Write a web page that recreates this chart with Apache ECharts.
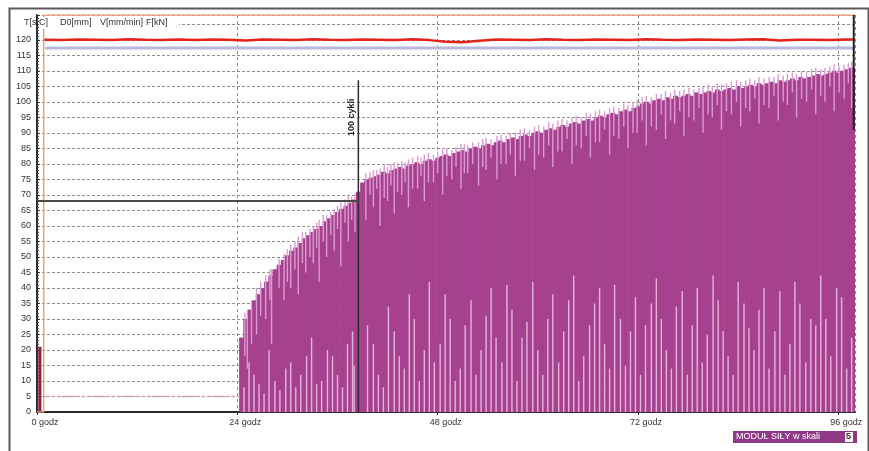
<!DOCTYPE html>
<html>
<head>
<meta charset="utf-8">
<script src="https://cdn.jsdelivr.net/npm/echarts@6/dist/echarts.min.js"></script>
<style>
html, body { margin: 0; padding: 0; background: #fff; }
#main { width: 869px; height: 451px; }
</style>
</head>
<body>
<div id="main"></div>
<script>
// F[kN] - gorna obwiednia, co 0.5 godz od 24.5 godz
var forceStart = 24.5;
var forceStep = 0.5;
var forceTop = [
  24, 30, 33, 36, 38, 40, 42, 44, 46, 47.5,
  49, 50.5, 52, 53, 54.5, 56, 57, 58, 59, 60,
  61.5, 62.5, 63.5, 64.5, 65.5, 66.5, 67.5, 68.5, 71, 74,
  75, 75.5, 76, 76.5, 77.5, 77, 78, 78.5, 79, 78.5,
  79.5, 80, 80.5, 80, 81, 81.5, 81, 82, 82.5, 83,
  82.5, 83.5, 84, 84.5, 84, 85, 85.5, 85, 86, 86.5,
  86, 87, 87.5, 87, 88, 88.5, 88, 89, 89.5, 89,
  90, 90.5, 90, 91, 91.5, 91, 92, 92.5, 92, 93,
  93.5, 93, 94, 94.5, 94, 95, 95.5, 95, 96, 96.5,
  96, 97, 97.5, 97, 98, 98.5, 99.5, 100, 99.5, 100.5,
  101, 100.5, 101.5, 101, 102, 101.5, 102, 102.5, 102, 103,
  102.5, 103, 103.5, 103, 104, 103.5, 104, 104.5, 104, 105,
  104.5, 105, 105.5, 105, 106, 105.5, 106, 106.5, 106, 107,
  106.5, 107, 107.5, 107, 108, 107.5, 108, 108.5, 109, 108.5,
  109, 109.5, 110, 109.5, 110, 110.5, 111, 111
];
// jasne prazki od gory: [godz, od wartosci]
var upperStreaks = [
  [24.9, 18], [25.2, 14], [25.7, 22], [26.3, 25], [26.8, 31], [27.4, 30], [27.9, 36],
  [28.1, 22], [29.0, 40], [29.6, 36], [30.0, 42], [30.4, 40], [30.9, 46], [31.3, 38],
  [31.8, 48], [32.2, 45], [32.7, 50], [33.1, 48], [33.5, 53], [33.8, 42], [34.3, 55],
  [34.7, 50], [35.2, 57], [35.6, 52], [36.0, 59], [36.4, 47], [36.9, 61], [37.3, 55],
  [37.7, 62], [38.1, 58],
  [39.4, 62], [39.9, 70], [40.3, 66], [40.7, 72], [41.1, 60], [41.6, 69], [42.0, 68],
  [42.4, 73], [42.8, 64], [43.2, 71], [43.7, 70], [44.1, 74], [44.5, 66], [45.0, 72],
  [45.6, 72], [46.0, 76], [46.4, 68], [46.9, 74], [47.5, 74], [48.0, 77], [48.6, 70],
  [49.1, 76], [49.7, 75], [50.2, 79], [50.8, 72], [51.2, 77], [51.6, 77], [52.2, 80],
  [52.9, 73], [53.4, 79], [53.8, 78], [54.4, 82], [55.1, 75], [55.6, 80], [56.2, 80],
  [56.7, 83], [57.3, 76], [57.9, 81], [58.4, 81], [59.0, 85], [59.6, 78], [60.1, 83],
  [60.7, 82], [61.3, 86], [61.8, 79], [62.4, 84], [62.9, 84], [63.5, 88], [64.1, 80],
  [64.6, 86], [65.2, 85], [65.8, 89], [66.3, 82], [66.9, 87], [67.4, 87], [68.0, 91],
  [68.6, 83], [69.1, 89], [69.7, 88], [70.3, 92], [70.8, 85], [71.4, 90], [71.9, 90],
  [72.5, 94], [73.0, 86], [73.6, 92], [74.2, 91], [74.8, 96], [75.3, 88], [75.9, 94],
  [76.4, 93], [77.0, 97], [77.5, 89], [78.1, 95], [78.7, 94], [79.3, 98], [79.8, 90],
  [80.4, 96], [80.9, 95], [81.5, 99], [82.0, 91], [82.6, 97], [83.2, 96], [83.8, 100],
  [84.3, 92], [84.9, 98], [85.4, 97], [86.0, 101], [86.5, 93], [87.1, 99], [87.7, 98],
  [88.3, 102], [88.8, 94], [89.4, 100], [89.9, 99], [90.5, 103], [91.0, 95], [91.6, 101],
  [92.2, 100], [92.8, 104], [93.3, 96], [93.9, 102], [94.4, 100], [95.0, 105], [95.5, 97],
  [96.1, 103], [96.7, 101], [97.2, 106], [97.6, 98]
];
// jasne prazki od dolu: [godz, do wartosci]
var lowerStreaks = [
  [24.8, 8], [25.4, 16], [26.0, 12], [26.6, 9], [27.2, 6], [27.8, 20], [28.5, 10],
  [29.1, 7], [29.8, 14], [30.4, 16], [31.0, 8], [31.6, 12], [32.3, 18], [32.9, 24],
  [33.5, 9], [34.1, 10], [34.8, 20], [35.4, 18], [36.0, 12], [36.6, 8], [37.2, 22],
  [37.8, 26], [38.0, 15],
  [39.6, 28], [40.3, 22], [40.9, 12], [41.5, 8], [42.1, 34], [42.8, 26], [43.4, 18],
  [44.0, 14], [44.6, 38], [45.2, 30], [45.8, 10], [46.4, 20], [47.0, 42], [47.6, 16],
  [48.3, 22], [48.9, 38], [49.5, 30], [50.1, 10], [50.7, 14], [51.3, 28], [52.0, 36],
  [52.6, 12], [53.2, 20], [53.8, 31], [54.4, 40], [55.0, 24], [55.7, 16], [56.3, 41],
  [56.9, 33], [57.5, 10], [58.1, 24], [58.7, 29], [59.4, 42], [60.0, 20], [60.6, 12],
  [61.2, 30], [61.8, 38], [62.5, 16], [63.1, 26], [63.7, 36], [64.3, 44], [64.9, 10],
  [65.5, 18], [66.2, 28], [66.8, 35], [67.4, 40], [68.0, 22], [68.6, 14], [69.2, 41],
  [69.9, 30], [70.5, 15], [71.1, 26], [71.7, 37], [72.3, 12], [72.9, 28], [73.6, 35],
  [74.2, 43], [74.8, 30], [75.4, 20], [76.0, 14], [76.6, 34], [77.3, 39], [77.9, 12],
  [78.5, 28], [79.1, 40], [79.7, 16], [80.3, 25], [81.0, 44], [81.6, 36], [82.2, 26],
  [82.8, 18], [83.4, 12], [84.0, 42], [84.7, 35], [85.3, 27], [85.9, 20], [86.5, 33],
  [87.1, 40], [87.7, 14], [88.4, 26], [89.0, 39], [89.6, 12], [90.2, 22], [90.8, 42],
  [91.4, 35], [92.1, 16], [92.7, 30], [93.3, 28], [93.9, 44], [94.5, 30], [95.1, 18],
  [95.8, 40], [96.4, 37], [97.0, 14], [97.6, 24]
];
// F przed 24 godz
var fPreHours = [0.35, 0.35];
var fPreValues = [0, 21];
var fBaseHours = [1, 24.3];
var fBaseValues = [5, 5];
// T[stC] co 2 godz od 1 godz
var tempStart = 1;
var tempStep = 2;
var tempValues = [
  120.1, 119.9, 120.1, 120.0, 119.9, 120.2, 120.0, 119.9, 120.1, 119.9,
  120.1, 120.0, 119.8, 120.1, 120.0, 119.9, 120.2, 120.0, 119.9, 120.1,
  120.0, 119.9, 120.2, 119.9, 119.4, 119.2, 119.7, 120.1, 120.0, 119.9,
  120.2, 120.0, 119.9, 120.1, 120.0, 119.9, 120.2, 120.0, 119.9, 120.1,
  120.0, 119.9, 120.1, 120.2, 119.8, 120.0, 120.0, 119.9, 120.1
];
// D0[mm]
var d0Hours = [1, 98];
var d0Values = [117.4, 117.4];
// V[mm/min]
var vHours = [0, 0.8, 0.8, 98];
var vValues = [0, 0, 128, 128];
// znaczniki
var markerHour = 38.5;
var markerTop = 107;
var markerLevel = 68;
var endHours = [97.85, 97.85];
var endValues = [128, 91];
var xTicks = [0, 24, 48, 72, 96];
var legendNames = ['T[stC]', 'D0[mm]', 'V[mm/min]', 'F[kN]'];

var myChart = echarts.init(document.getElementById('main'));

function pairs(hs, vs) {
  return hs.map(function (h, i) { return [h, vs[i]]; });
}
function topAt(h) {
  var i = Math.round((h - forceStart) / forceStep);
  i = Math.max(0, Math.min(forceTop.length - 1, i));
  return forceTop[i];
}

var massData = forceTop.map(function (v, i) { return [forceStart + i * forceStep, 0, v]; });
var upperData = upperStreaks.map(function (s) { return [s[0], s[1], topAt(s[0]) + 2]; });
var lowerData = lowerStreaks.map(function (s) { return [s[0], 0, s[1]]; });
var tempData = tempValues.map(function (v, i) { return [tempStart + i * tempStep, v]; });
tempData.unshift([0.8, 120]);
tempData.push([98, 120.1]);

function rectRenderer(color, fixedWidth) {
  return function (params, api) {
    var x = api.value(0);
    var p0 = api.coord([x, api.value(1)]);
    var p1 = api.coord([x, api.value(2)]);
    var w = fixedWidth || api.size([forceStep, 0])[0] + 0.6;
    return {
      type: 'rect',
      shape: { x: p1[0] - w / 2, y: p1[1], width: w, height: p0[1] - p1[1] },
      style: { fill: color }
    };
  };
}

var option = {
  animation: false,
  backgroundColor: '#fff',
  grid: { left: 37, right: 14, top: 15, bottom: 39 },
  xAxis: {
    type: 'value',
    min: 0,
    max: 98,
    interval: 24,
    axisLine: { lineStyle: { color: '#2a2a2a', width: 2 } },
    axisTick: { show: true, length: 3, lineStyle: { color: '#333' } },
    axisLabel: {
      color: '#333',
      fontSize: 9,
      fontFamily: 'Liberation Sans Narrow, Liberation Sans, sans-serif',
      margin: 6,
      padding: [0, 0, 0, 16],
      showMaxLabel: false,
      formatter: function (v) { return xTicks.indexOf(v) >= 0 ? v + ' godz' : ''; }
    },
    splitLine: { show: true, lineStyle: { color: '#8a8a8a', type: [3, 3], width: 1 } }
  },
  yAxis: {
    type: 'value',
    min: 0,
    max: 128,
    interval: 5,
    axisLine: { show: true, lineStyle: { color: '#2a2a2a', width: 2 } },
    axisTick: { show: true, inside: true, length: 3, lineStyle: { color: '#333' } },
    minorTick: { show: true, splitNumber: 5, length: 2, lineStyle: { color: '#555' } },
    axisLabel: {
      color: '#333',
      fontSize: 9,
      fontFamily: 'Liberation Sans Narrow, Liberation Sans, sans-serif',
      margin: 6,
      formatter: function (v) { return v <= 120 ? v : ''; }
    },
    splitLine: { show: true, lineStyle: { color: '#8f8f8f', type: [3, 2], width: 1 } }
  },
  series: [
    {
      name: 'F[kN]',
      type: 'custom',
      clip: true,
      renderItem: rectRenderer('#a5418d'),
      data: massData,
      z: 2
    },
    {
      name: 'F[kN] gora',
      type: 'custom',
      clip: true,
      renderItem: rectRenderer('#dc9bd0', 1.4),
      data: upperData,
      z: 3
    },
    {
      name: 'F[kN] dol',
      type: 'custom',
      clip: true,
      renderItem: rectRenderer('#e6b3dd', 1.4),
      data: lowerData,
      z: 3
    },
    {
      name: 'F[kN] start',
      type: 'line',
      showSymbol: false,
      data: pairs(fPreHours, fPreValues),
      lineStyle: { color: '#8c1f45', width: 3 },
      z: 4
    },
    {
      name: 'F[kN] baza',
      type: 'line',
      showSymbol: false,
      data: pairs(fBaseHours, fBaseValues),
      lineStyle: { color: '#c7a6c2', width: 1.5, type: [4, 2] },
      z: 4
    },
    {
      name: 'D0[mm]',
      type: 'line',
      showSymbol: false,
      data: pairs(d0Hours, d0Values),
      lineStyle: { color: '#b6b9dd', width: 3 },
      z: 4
    },
    {
      name: 'T[stC]',
      type: 'line',
      showSymbol: false,
      data: tempData,
      lineStyle: { color: '#e2231a', width: 2.5 },
      z: 5
    },
    {
      name: 'V[mm/min]',
      type: 'line',
      showSymbol: false,
      data: pairs(vHours, vValues),
      lineStyle: { color: '#eda07a', width: 1.5 },
      z: 5
    },
    {
      name: 'znacznik',
      type: 'line',
      showSymbol: false,
      data: [[markerHour, 0], [markerHour, markerTop]],
      lineStyle: { color: '#2b2b2b', width: 1.5 },
      z: 6
    },
    {
      name: 'poziom',
      type: 'line',
      showSymbol: false,
      data: [[0, markerLevel], [markerHour, markerLevel]],
      lineStyle: { color: '#4a4a4a', width: 2 },
      z: 6
    },
    {
      name: 'koniec',
      type: 'line',
      showSymbol: false,
      data: pairs(endHours, endValues),
      lineStyle: { color: '#222', width: 2 },
      z: 6
    }
  ]
};
myChart.setOption(option);

// podpisy i ramka
var mk = myChart.convertToPixel({ gridIndex: 0 }, [markerHour, 95]);
var legendX = [24, 60, 100, 146];
var graphics = [
  {
    type: 'rect', left: 7, top: 6, z: 100,
    shape: { width: 859, height: 450 },
    style: { fill: 'none', stroke: '#5a5a5a', lineWidth: 2 }
  },
  {
    type: 'rect', left: 39, top: 17, z: 99,
    shape: { width: 140, height: 12 },
    style: { fill: '#fff' }
  },
  {
    type: 'text', z: 101,
    x: mk[0] - 2, y: mk[1],
    rotation: Math.PI / 2,
    style: {
      text: '100 cykli', fill: '#222', fontSize: 9, fontWeight: 'bold',
      fontFamily: 'Liberation Sans, sans-serif', align: 'center', verticalAlign: 'bottom'
    }
  },
  {
    type: 'rect', left: 733, top: 431, z: 100,
    shape: { width: 124, height: 12 },
    style: { fill: '#8f3a87' }
  },
  {
    type: 'text', left: 736, top: 432, z: 101,
    style: { text: 'MODUŁ SIŁY w skali', fill: '#fff', fontSize: 9, fontFamily: 'Liberation Sans Narrow, Liberation Sans, sans-serif' }
  },
  {
    type: 'rect', left: 845, top: 432, z: 101,
    shape: { width: 8, height: 10 },
    style: { fill: '#f4f4f4' }
  },
  {
    type: 'text', left: 846, top: 432, z: 102,
    style: { text: '5', fill: '#333', fontSize: 9, fontWeight: 'bold', fontFamily: 'Liberation Sans, sans-serif' }
  }
];
legendNames.forEach(function (n, i) {
  graphics.push({
    type: 'text', left: legendX[i], top: 18, z: 101,
    style: { text: n, fill: '#333', fontSize: 9, fontFamily: 'Liberation Sans Narrow, Liberation Sans, sans-serif' }
  });
});
myChart.setOption({ graphic: graphics });
</script>
</body>
</html>
